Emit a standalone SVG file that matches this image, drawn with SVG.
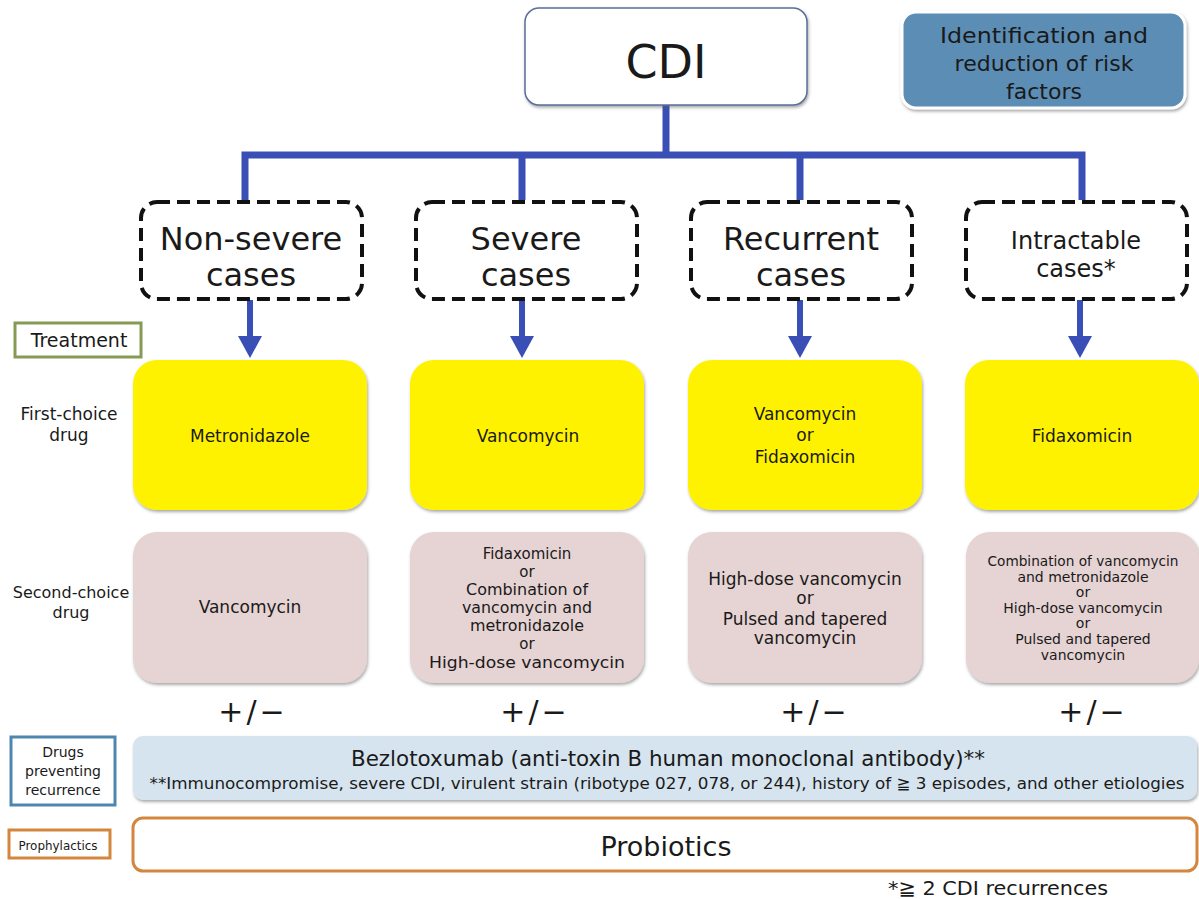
<svg xmlns="http://www.w3.org/2000/svg" width="1199" height="899" viewBox="0 0 1199 899">
<style>
text{font-family:"DejaVu Sans","Noto Sans CJK JP",sans-serif;fill:#1a1a1a;text-anchor:middle}
.case{fill:#fff;stroke:#111;stroke-width:4;stroke-dasharray:13 7}
.first{fill:#fff200}
.second{fill:#e6d3d3}
.conn{stroke:#3a4fb5;stroke-width:7;fill:none}
.big{font-size:32px}
.med{font-size:17px}
.s2{font-size:15px}
.s4{font-size:14px}
.pm{font-size:30px;letter-spacing:3px}
</style>
<defs>
<filter id="sh" x="-5%" y="-5%" width="110%" height="120%"><feDropShadow dx="1" dy="2" stdDeviation="1.5" flood-color="#555" flood-opacity="0.5"/></filter>
</defs>

<g id="connectors">
<path class="conn" d="M666,105 V155 M245,158 V155 H1082 V200 M245,155 V200 M522,155 V200 M800,155 V200"/>
<g stroke="#3a4fb5" stroke-width="6" fill="#3a4fb5">
<line x1="250" y1="300" x2="250" y2="338"/><path d="M238,336 L262,336 L250,358 Z" stroke="none"/>
<line x1="522" y1="300" x2="522" y2="338"/><path d="M510,336 L534,336 L522,358 Z" stroke="none"/>
<line x1="800" y1="300" x2="800" y2="338"/><path d="M788,336 L812,336 L800,358 Z" stroke="none"/>
<line x1="1080" y1="300" x2="1080" y2="338"/><path d="M1068,336 L1092,336 L1080,358 Z" stroke="none"/>
</g>
</g>

<g id="cdi">
<rect x="525" y="8" width="282" height="97" rx="14" fill="#fff" stroke="#5a6f9a" stroke-width="1.5" filter="url(#sh)"/>
<text x="666" y="78" font-size="46">CDI</text>
</g>

<g id="risk">
<rect x="902" y="12" width="283" height="96" rx="14" fill="#5b8db5" stroke="#fff" stroke-width="3" filter="url(#sh)"/>
<text x="1044" y="43" font-size="22" textLength="208" lengthAdjust="spacingAndGlyphs">Identification and</text>
<text x="1044" y="71" font-size="22">reduction of risk</text>
<text x="1044" y="99" font-size="22">factors</text>
</g>

<g id="case1">
<rect class="case" x="141" y="202" width="221" height="97" rx="16"/>
<text class="big" x="251" y="250">Non-severe</text>
<text class="big" x="251" y="286">cases</text>
</g>
<g id="case2">
<rect class="case" x="416" y="202" width="221" height="97" rx="16"/>
<text class="big" x="526" y="250">Severe</text>
<text class="big" x="526" y="286">cases</text>
</g>
<g id="case3">
<rect class="case" x="691" y="202" width="221" height="97" rx="16"/>
<text class="big" x="801" y="250">Recurrent</text>
<text class="big" x="801" y="286">cases</text>
</g>
<g id="case4">
<rect class="case" x="966" y="202" width="221" height="97" rx="16"/>
<text x="1076" y="249" font-size="24">Intractable</text>
<text x="1076" y="277" font-size="24">cases*</text>
</g>

<g id="treatment">
<rect x="15" y="323" width="126" height="34" fill="#fff" stroke="#869a55" stroke-width="3"/>
<text x="79" y="347" font-size="19">Treatment</text>
</g>
<g id="firstLabel">
<text x="69" y="420" font-size="17">First-choice</text>
<text x="69" y="441" font-size="17">drug</text>
</g>
<g id="secondLabel">
<text x="71" y="598" font-size="16">Second-choice</text>
<text x="71" y="618" font-size="16">drug</text>
</g>

<g id="first1"><rect class="first" x="133" y="360" width="234" height="150" rx="24" filter="url(#sh)"/>
<text class="med" x="250" y="442">Metronidazole</text></g>
<g id="first2"><rect class="first" x="410" y="360" width="234" height="150" rx="24" filter="url(#sh)"/>
<text class="med" x="528" y="442">Vancomycin</text></g>
<g id="first3"><rect class="first" x="688" y="360" width="234" height="150" rx="24" filter="url(#sh)"/>
<text class="med" x="805" y="420">Vancomycin</text>
<text class="med" x="805" y="441">or</text>
<text class="med" x="805" y="463">Fidaxomicin</text></g>
<g id="first4"><rect class="first" x="965" y="360" width="234" height="150" rx="24" filter="url(#sh)"/>
<text class="med" x="1082" y="442">Fidaxomicin</text></g>

<g id="second1"><rect class="second" x="133" y="532" width="234" height="151" rx="24" filter="url(#sh)"/>
<text class="med" x="250" y="613">Vancomycin</text></g>
<g id="second2"><rect class="second" x="410" y="532" width="234" height="151" rx="24" filter="url(#sh)"/>
<text class="s2" x="527" y="559">Fidaxomicin</text>
<text class="s2" x="527" y="577">or</text>
<text class="s2" x="527" y="595" textLength="122" lengthAdjust="spacingAndGlyphs">Combination of</text>
<text class="s2" x="527" y="613" textLength="130" lengthAdjust="spacingAndGlyphs">vancomycin and</text>
<text class="s2" x="527" y="631" textLength="114" lengthAdjust="spacingAndGlyphs">metronidazole</text>
<text class="s2" x="527" y="649">or</text>
<text class="s2" x="527" y="668" textLength="196" lengthAdjust="spacingAndGlyphs">High-dose vancomycin</text></g>
<g id="second3"><rect class="second" x="688" y="532" width="234" height="151" rx="24" filter="url(#sh)"/>
<text class="med" x="805" y="585">High-dose vancomycin</text>
<text class="med" x="805" y="604">or</text>
<text class="med" x="805" y="625">Pulsed and tapered</text>
<text class="med" x="805" y="644">vancomycin</text></g>
<g id="second4"><rect class="second" x="966" y="532" width="233" height="151" rx="24" filter="url(#sh)"/>
<text class="s4" x="1083" y="566" textLength="191" lengthAdjust="spacingAndGlyphs">Combination of vancomycin</text>
<text class="s4" x="1083" y="582">and metronidazole</text>
<text class="s4" x="1083" y="597">or</text>
<text class="s4" x="1083" y="613">High-dose vancomycin</text>
<text class="s4" x="1083" y="628">or</text>
<text class="s4" x="1083" y="644">Pulsed and tapered</text>
<text class="s4" x="1083" y="660">vancomycin</text></g>

<g id="pm">
<text class="pm" x="253" y="722">+/−</text>
<text class="pm" x="535" y="722">+/−</text>
<text class="pm" x="815" y="722">+/−</text>
<text class="pm" x="1093" y="722">+/−</text>
</g>

<g id="drugsLabel">
<rect x="11" y="737" width="104" height="68" fill="#fff" stroke="#4f86b0" stroke-width="3"/>
<text x="63" y="757" font-size="14">Drugs</text>
<text x="63" y="776" font-size="14">preventing</text>
<text x="63" y="795" font-size="14">recurrence</text>
</g>
<g id="bezlo">
<rect x="133" y="736" width="1064" height="64" rx="10" fill="#d6e4ef" filter="url(#sh)"/>
<text x="668" y="766" font-size="21" textLength="634" lengthAdjust="spacingAndGlyphs">Bezlotoxumab (anti-toxin B human monoclonal antibody)**</text>
<text x="667" y="789" font-size="16.5" textLength="1035" lengthAdjust="spacingAndGlyphs">**Immunocompromise, severe CDI, virulent strain (ribotype 027, 078, or 244), history of ≧ 3 episodes, and other etiologies</text>
</g>

<g id="prophLabel">
<rect x="9" y="830" width="101" height="28" fill="#fff" stroke="#d4863f" stroke-width="3"/>
<text x="58" y="850" font-size="13" textLength="79" lengthAdjust="spacingAndGlyphs">Prophylactics</text>
</g>
<g id="probiotics">
<rect x="133" y="818" width="1064" height="53" rx="10" fill="#fff" stroke="#d4863f" stroke-width="3"/>
<text x="666" y="856" font-size="27">Probiotics</text>
</g>

<text x="998" y="895" font-size="20" textLength="220" lengthAdjust="spacingAndGlyphs">*≧ 2 CDI recurrences</text>
</svg>
